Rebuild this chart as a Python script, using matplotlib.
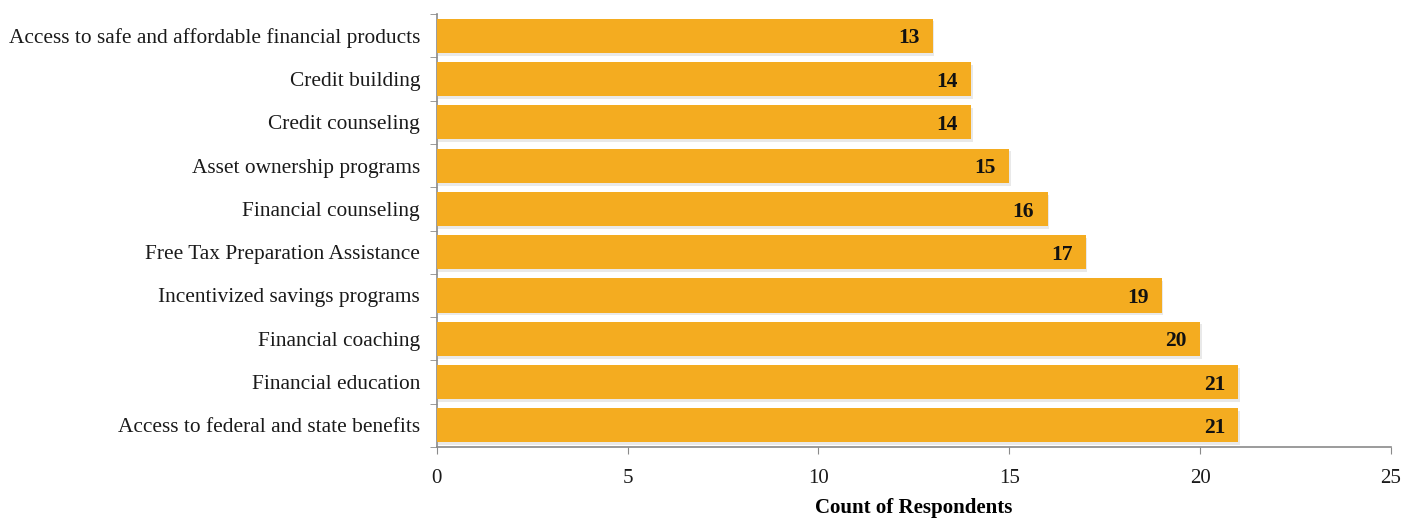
import matplotlib.pyplot as plt
import matplotlib.patheffects as pe
import numpy as np

plt.rcParams['font.family'] = ['Liberation Serif', 'DejaVu Serif']

# Services offered, bottom to top
services = [
    'Access to federal and state benefits',
    'Financial education',
    'Financial coaching',
    'Incentivized savings programs',
    'Free Tax Preparation Assistance',
    'Financial counseling',
    'Asset ownership programs',
    'Credit counseling',
    'Credit building',
    'Access to safe and affordable financial products',
]
counts = [21, 21, 20, 19, 17, 16, 15, 14, 14, 13]

bar_color = '#F4AC20'
axis_color = '#8a8a8a'

fig = plt.figure(figsize=(14.18, 5.23), dpi=100)
ax = fig.add_axes([0.308, 0.1453, 0.673, 0.8277])

pos = np.arange(len(services))
bars = ax.barh(pos, counts, height=0.79, color=bar_color, zorder=3)
for b in bars:
    b.set_path_effects([pe.SimplePatchShadow(offset=(1, -2), shadow_rgbFace='#aaaaaa', alpha=0.25),
                        pe.Normal()])

for y, v in zip(pos, counts):
    ax.text(v - 0.35, y - 0.06, str(v), ha='right', va='center', fontsize=15.5,
            fontweight='bold', color='#111111', zorder=4)

ax.set_xlim(0, 25)
ax.set_ylim(-0.5, len(services) - 0.5)
ax.set_xticks(np.arange(0, 26, 5))
ax.set_yticks(pos)
ax.set_yticklabels(services, fontsize=15.4, color='#1a1a1a')
ax.set_yticks(np.arange(-0.5, len(services), 1), minor=True)
ax.tick_params(axis='y', which='major', length=0, pad=12)
ax.tick_params(axis='y', which='minor', length=5, color=axis_color, direction='out')
ax.tick_params(axis='x', length=5, color=axis_color, labelsize=15, labelcolor='#1a1a1a', pad=11)

for s in ['top', 'right']:
    ax.spines[s].set_visible(False)
for s in ['left', 'bottom']:
    ax.spines[s].set_color(axis_color)
    ax.spines[s].set_linewidth(1.2)

ax.set_xlabel('Count of Respondents', fontsize=15, fontweight='bold', labelpad=7)

fig.savefig('out.png', dpi=100)
